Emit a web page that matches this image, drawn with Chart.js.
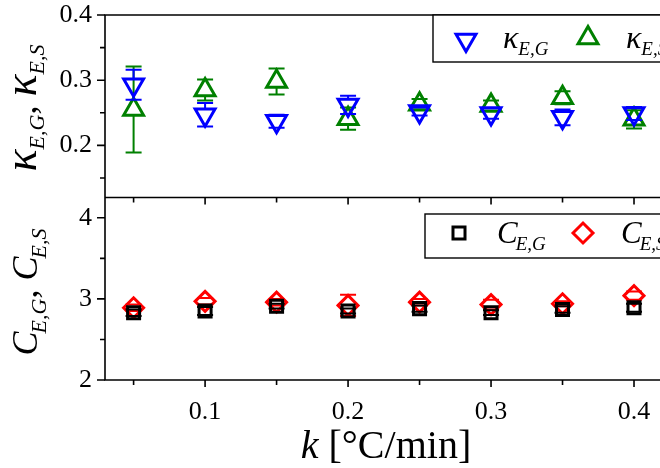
<!DOCTYPE html>
<html>
<head>
<meta charset="utf-8">
<script src="https://cdn.jsdelivr.net/npm/chart.js@4/dist/chart.umd.min.js"></script>
<style>
  html, body { margin: 0; padding: 0; background: #ffffff; overflow: hidden; }
  #wrap { position: relative; width: 720px; height: 468px; }
</style>
</head>
<body>
<div id="wrap"><canvas id="chart" width="720" height="468"></canvas></div>
<script>
// Heating rates k [°C/min]
const heatingRates = [0.05, 0.10, 0.15, 0.20, 0.25, 0.30, 0.35, 0.40];

// Upper panel: kappa values with their error half-widths
const kappaEG    = [0.293, 0.247, 0.237, 0.262, 0.252, 0.249, 0.243, 0.249];
const kappaEGErr = [0.023, 0.018, 0.010, 0.014, 0.006, 0.008, 0.012, 0.010];
const kappaES    = [0.255, 0.285, 0.298, 0.241, 0.263, 0.261, 0.273, 0.240];
const kappaESErr = [0.066, 0.016, 0.020, 0.017, 0.008, 0.008, 0.010, 0.014];

// Lower panel: C values with their error half-widths
const cEG    = [2.83, 2.85, 2.91, 2.85, 2.88, 2.83, 2.87, 2.89];
const cEGErr = [0.04, 0.05, 0.03, 0.03, 0.04, 0.03, 0.04, 0.05];
const cES    = [2.89, 2.97, 2.96, 2.92, 2.96, 2.93, 2.94, 3.04];
const cESErr = [0.04, 0.04, 0.04, 0.13, 0.04, 0.06, 0.03, 0.05];

// Tick positions
const xMajorTicks = [0.1, 0.2, 0.3, 0.4];
const xMinorTicks = [0.05, 0.15, 0.25, 0.35];
const kappaMajorTicks = [0.2, 0.3, 0.4];
const kappaMinorTicks = [0.15, 0.25, 0.35];
const cMajorTicks = [2, 3, 4];
const cMinorTicks = [2.5, 3.5];

const SERIF = '"Liberation Serif", "Times New Roman", serif';
const INK = '#000000';

const points = (ys) => heatingRates.map((x, i) => ({ x, y: ys[i] }));

// Draw a sequence of text runs (used for subscripted labels)
function runsWidth(ctx, runs) {
  let w = 0;
  for (const r of runs) { ctx.font = r.font; w += ctx.measureText(r.t).width + (r.gap || 0); }
  return w;
}
function drawRuns(ctx, runs, x, y) {
  let cx = x;
  for (const r of runs) {
    ctx.font = r.font;
    ctx.fillText(r.t, cx, y + (r.dy || 0));
    cx += ctx.measureText(r.t).width + (r.gap || 0);
  }
}

// Marker outline for the legend entries
function markerPath(ctx, style, x, y, r, rot) {
  ctx.beginPath();
  if (style === 'triangle') {
    let a = rot * Math.PI / 180;
    for (let k = 0; k < 3; k++) {
      const px = x + Math.sin(a) * r, py = y - Math.cos(a) * r;
      if (k === 0) ctx.moveTo(px, py); else ctx.lineTo(px, py);
      a += 2 * Math.PI / 3;
    }
    ctx.closePath();
  } else if (style === 'rect') {
    const s = Math.SQRT1_2 * r;
    ctx.rect(x - s, y - s, 2 * s, 2 * s);
  } else if (style === 'rectRot') {
    ctx.moveTo(x - r, y); ctx.lineTo(x, y - r); ctx.lineTo(x + r, y); ctx.lineTo(x, y + r);
    ctx.closePath();
  }
}

// Vertical error bars with caps, drawn after each dataset
const errorBars = {
  id: 'errorBars',
  afterDatasetDraw(chart, args) {
    const ds = chart.data.datasets[args.index];
    if (!ds.errors) return;
    const meta = args.meta;
    const scale = chart.scales[meta.yAxisID];
    const ctx = chart.ctx;
    const [gTop, gBot] = ds.markerGap;
    ctx.save();
    ctx.strokeStyle = ds.borderColor;
    ctx.lineWidth = 2;
    meta.data.forEach((pt, i) => {
      const v = ds.data[i].y, e = ds.errors[i];
      const yHi = scale.getPixelForValue(v + e);
      const yLo = scale.getPixelForValue(v - e);
      ctx.beginPath();
      if (pt.y - gTop > yHi) { ctx.moveTo(pt.x, pt.y - gTop); ctx.lineTo(pt.x, yHi); }
      if (pt.y + gBot < yLo) { ctx.moveTo(pt.x, pt.y + gBot); ctx.lineTo(pt.x, yLo); }
      ctx.moveTo(pt.x - 8, yHi); ctx.lineTo(pt.x + 8, yHi);
      ctx.moveTo(pt.x - 8, yLo); ctx.lineTo(pt.x + 8, yLo);
      ctx.stroke();
    });
    ctx.restore();
  }
};

// Frames, tick marks, legends and axis titles
const decorations = {
  id: 'decorations',
  afterDraw(chart) {
    const ctx = chart.ctx;
    const area = chart.chartArea;
    const x = chart.scales.x, yT = chart.scales.yKappa, yB = chart.scales.yC;
    const right = chart.width + 10;
    ctx.save();
    ctx.strokeStyle = INK;
    ctx.lineWidth = 1.6;
    ctx.lineCap = 'butt';

    // frame lines
    ctx.beginPath();
    ctx.moveTo(area.left, area.top); ctx.lineTo(right, area.top);
    ctx.moveTo(area.left, yT.bottom); ctx.lineTo(right, yT.bottom);
    ctx.moveTo(area.left, area.bottom); ctx.lineTo(right, area.bottom);
    ctx.moveTo(area.left, area.top - 0.8); ctx.lineTo(area.left, area.bottom + 0.8);
    ctx.stroke();

    // tick marks
    ctx.beginPath();
    const yTicks = (scale, major, minor) => {
      major.forEach(v => { const p = scale.getPixelForValue(v); ctx.moveTo(area.left - 8, p); ctx.lineTo(area.left, p); });
      minor.forEach(v => { const p = scale.getPixelForValue(v); ctx.moveTo(area.left - 5, p); ctx.lineTo(area.left, p); });
    };
    yTicks(yT, kappaMajorTicks, kappaMinorTicks);
    yTicks(yB, cMajorTicks, cMinorTicks);
    [area.bottom, yT.bottom].forEach(base => {
      xMajorTicks.forEach(v => { const p = x.getPixelForValue(v); ctx.moveTo(p, base); ctx.lineTo(p, base + 7); });
      xMinorTicks.forEach(v => { const p = x.getPixelForValue(v); ctx.moveTo(p, base); ctx.lineTo(p, base + 5); });
    });
    ctx.stroke();

    // legends
    ctx.fillStyle = '#ffffff';
    ctx.lineWidth = 1.4;
    ctx.fillRect(433, area.top, right - 433, 47);
    ctx.strokeRect(433, area.top, right - 433, 47);
    ctx.fillRect(425, 214, right - 425, 44);
    ctx.strokeRect(425, 214, right - 425, 44);

    const legendMarker = (style, rot, color, px, py, r) => {
      ctx.strokeStyle = color; ctx.lineWidth = 3;
      markerPath(ctx, style, px, py, r, rot); ctx.stroke();
    };
    legendMarker('triangle', 180, '#0000ff', 466, 40, 11.5);
    legendMarker('triangle', 0, '#008000', 588, 38, 11.5);
    legendMarker('rect', 0, INK, 459, 233, 8.5);
    legendMarker('rectRot', 0, '#ff0000', 583, 233, 10);

    ctx.fillStyle = INK;
    ctx.textBaseline = 'alphabetic';
    ctx.textAlign = 'left';
    const kMain = 'italic 32px ' + SERIF, kSub = 'italic 19px ' + SERIF;
    drawRuns(ctx, [{ t: 'κ', font: kMain }, { t: 'E,G', font: kSub, dy: 7 }], 503, 48);
    drawRuns(ctx, [{ t: 'κ', font: kMain }, { t: 'E,S', font: kSub, dy: 7 }], 626, 48);
    const cMain = 'italic 31px ' + SERIF, cSub = 'italic 19px ' + SERIF;
    drawRuns(ctx, [{ t: 'C', font: cMain, gap: -2 }, { t: 'E,G', font: cSub, dy: 7 }], 497, 243);
    drawRuns(ctx, [{ t: 'C', font: cMain, gap: -2 }, { t: 'E,S', font: cSub, dy: 7 }], 621, 243);

    // rotated y-axis titles
    const vTitle = (runs, bx, cy) => {
      ctx.save();
      ctx.translate(bx, cy);
      ctx.rotate(-Math.PI / 2);
      const w = runsWidth(ctx, runs);
      drawRuns(ctx, runs, -w / 2, 0);
      ctx.restore();
    };
    const tk = 'italic 46px ' + SERIF, tks = 'italic 22px ' + SERIF, tc = '36px ' + SERIF;
    vTitle([{ t: 'κ', font: tk }, { t: 'E,G', font: tks, dy: 8 }, { t: ', ', font: tc },
            { t: 'κ', font: tk }, { t: 'E,S', font: tks, dy: 8 }], 36, 108);
    const cc = 'italic 36px ' + SERIF, ccs = 'italic 22px ' + SERIF;
    vTitle([{ t: 'C', font: cc, gap: -2 }, { t: 'E,G', font: ccs, dy: 9 }, { t: ', ', font: tc },
            { t: 'C', font: cc, gap: -2 }, { t: 'E,S', font: ccs, dy: 9 }], 37, 292);

    // x-axis title
    const xRuns = [{ t: 'k', font: 'italic 40px ' + SERIF }, { t: ' [°C/min]', font: '40px ' + SERIF }];
    const xw = runsWidth(ctx, xRuns);
    drawRuns(ctx, xRuns, 386 - xw / 2, 458);

    ctx.restore();
  }
};

const tickFont = { family: SERIF, size: 26 };

// fixed axis sizes with no extra label overhang padding
const fitY = s => { s.width = 105; s.paddingTop = 0; s.paddingBottom = 0; };
const fitX = s => { s.height = 88; s.paddingLeft = 0; s.paddingRight = 0; };

new Chart(document.getElementById('chart'), {
  type: 'scatter',
  data: {
    datasets: [
      { label: 'κE,G', data: points(kappaEG), errors: kappaEGErr, yAxisID: 'yKappa',
        pointStyle: 'triangle', pointRotation: 180, radius: 11.5, borderWidth: 3,
        borderColor: '#0000ff', backgroundColor: 'rgba(0,0,0,0)', markerGap: [6, 11] },
      { label: 'κE,S', data: points(kappaES), errors: kappaESErr, yAxisID: 'yKappa',
        pointStyle: 'triangle', radius: 11.5, borderWidth: 3,
        borderColor: '#008000', backgroundColor: 'rgba(0,0,0,0)', markerGap: [11, 6] },
      { label: 'CE,G', data: points(cEG), errors: cEGErr, yAxisID: 'yC',
        pointStyle: 'rect', radius: 8.5, borderWidth: 3,
        borderColor: '#000000', backgroundColor: 'rgba(0,0,0,0)', markerGap: [6, 6] },
      { label: 'CE,S', data: points(cES), errors: cESErr, yAxisID: 'yC',
        pointStyle: 'rectRot', radius: 10, borderWidth: 3,
        borderColor: '#ff0000', backgroundColor: 'rgba(0,0,0,0)', markerGap: [10, 10] }
    ]
  },
  options: {
    responsive: false,
    animation: false,
    devicePixelRatio: 1,
    layout: { padding: { top: 15, right: 12, left: 0, bottom: 0 } },
    plugins: { legend: { display: false }, tooltip: { enabled: false } },
    elements: { point: { hoverRadius: 11 } },
    scales: {
      x: {
        type: 'linear', position: 'bottom', min: 0.03, max: 0.45,
        afterBuildTicks: s => { s.ticks = xMajorTicks.map(v => ({ value: v })); },
        afterFit: fitX,
        grid: { display: false, drawTicks: false },
        border: { display: false },
        ticks: { color: INK, font: tickFont, padding: 17, maxRotation: 0,
                 callback: v => v.toFixed(1) }
      },
      // the lower panel is listed first so the stacked layout places it below
      yC: {
        type: 'linear', position: 'left', stack: 'panels', stackWeight: 1,
        min: 2, max: 4.25,
        afterBuildTicks: s => { s.ticks = cMajorTicks.map(v => ({ value: v })); },
        afterFit: fitY,
        grid: { display: false, drawTicks: false },
        border: { display: false },
        ticks: { color: INK, font: tickFont, padding: 13, callback: v => String(v) }
      },
      yKappa: {
        type: 'linear', position: 'left', stack: 'panels', stackWeight: 1,
        min: 0.12, max: 0.4,
        afterBuildTicks: s => { s.ticks = kappaMajorTicks.map(v => ({ value: v })); },
        afterFit: fitY,
        grid: { display: false, drawTicks: false },
        border: { display: false },
        ticks: { color: INK, font: tickFont, padding: 13, callback: v => v.toFixed(1) }
      }
    }
  },
  plugins: [errorBars, decorations]
});
</script>
</body>
</html>
